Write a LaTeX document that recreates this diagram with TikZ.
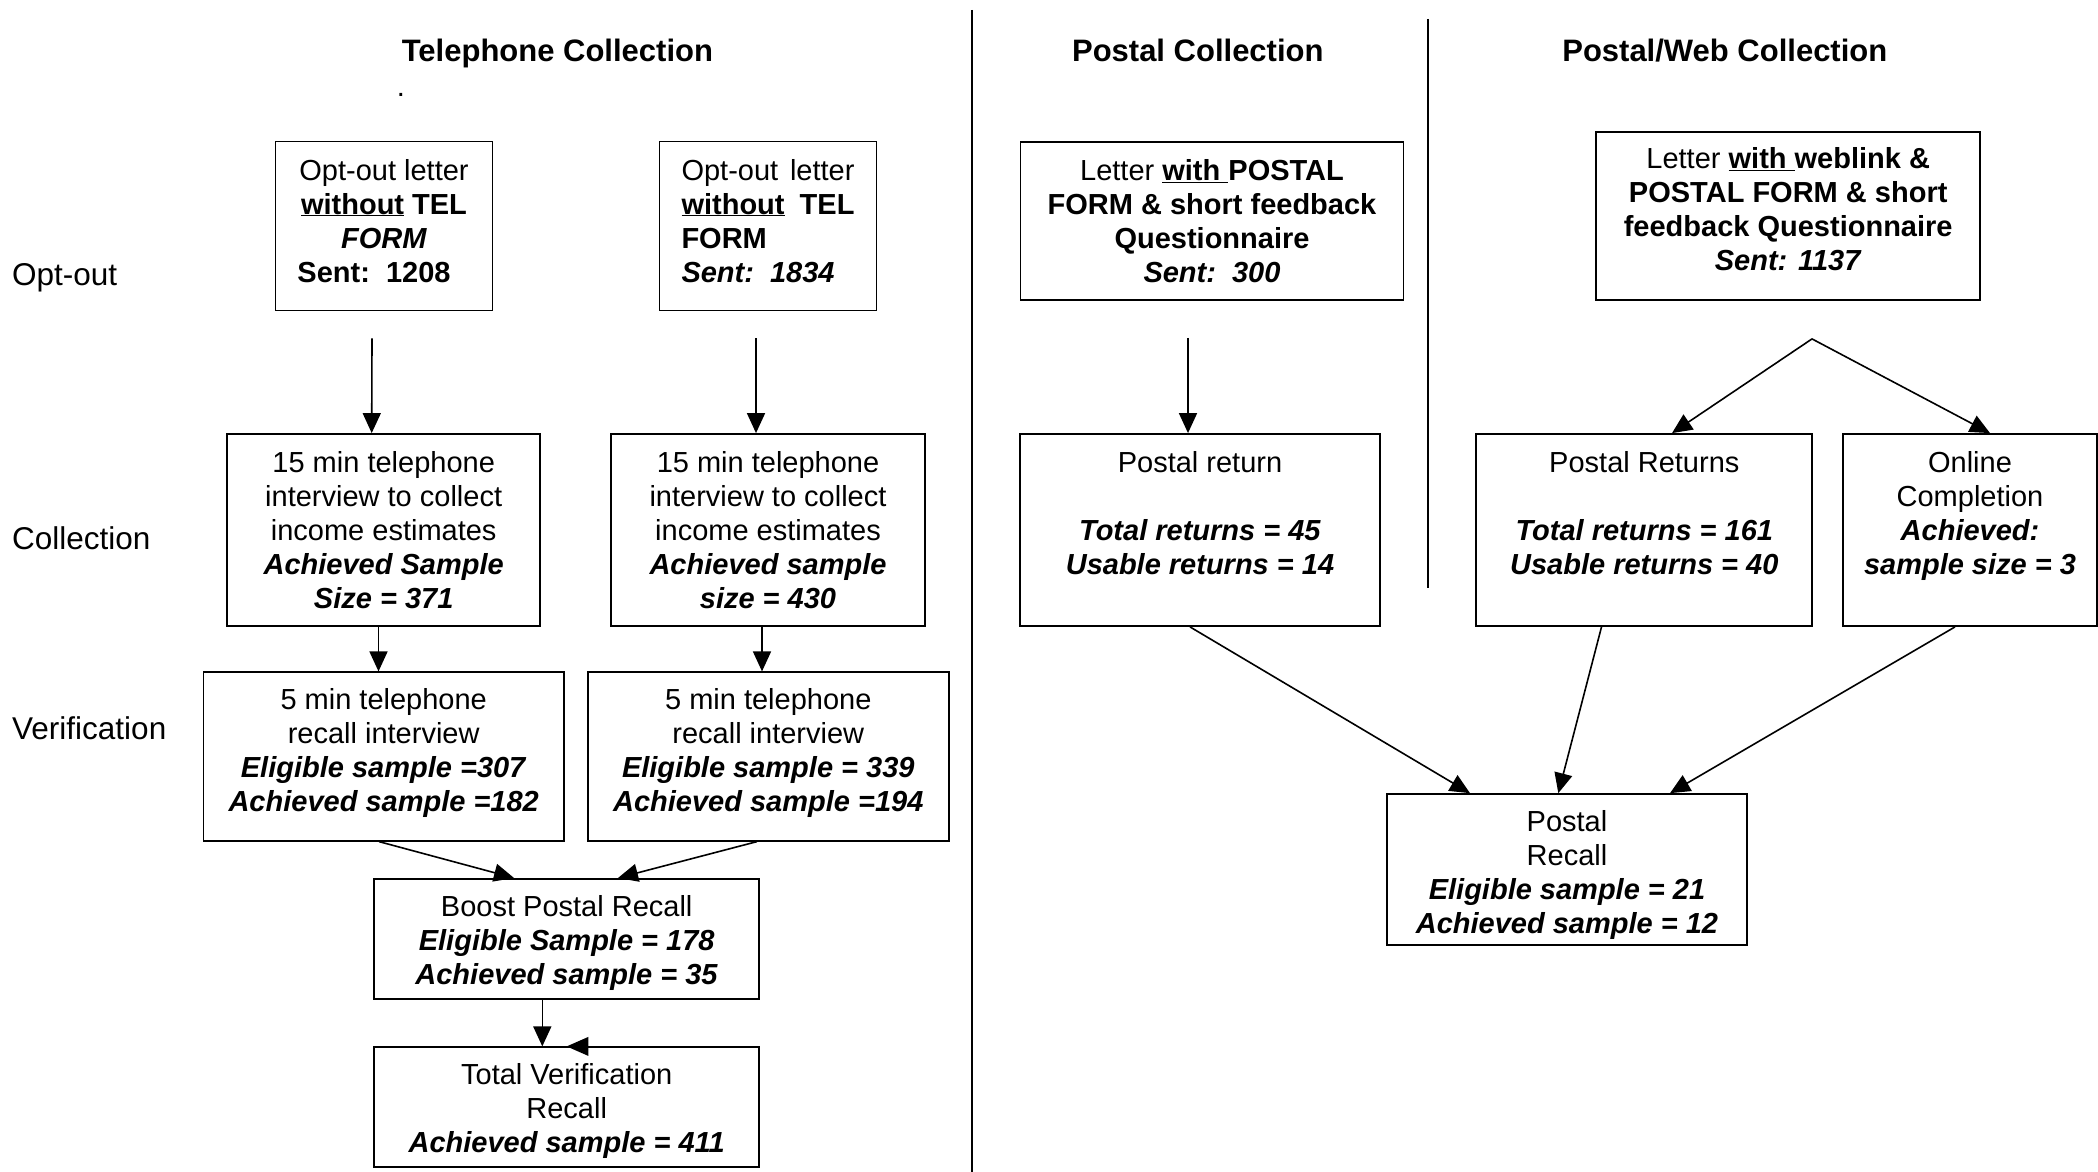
\documentclass[tikz,border=0pt]{standalone}
\usepackage{fontspec}
\setmainfont{Liberation Sans}
\usetikzlibrary{arrows.meta}
\newcommand{\bfit}[1]{\textbf{\textit{#1}}}
\newcommand{\tp}[1]{\rule{0pt}{#1pt}}
\newcommand{\bt}[1]{\rule[-#1pt]{0pt}{#1pt}}
\begin{document}
\begin{tikzpicture}[x=1pt,y=-1pt,
  box/.style={draw, line width=1.8pt, inner sep=0pt, align=center, font=\fontsize{29}{34}\selectfont},
  conn/.style={line width=1.6pt, -{Triangle[length=20pt,width=18pt]}},
  coltitle/.style={font=\fontsize{31}{36}\selectfont\bfseries, inner sep=0pt, anchor=base},
  rowlabel/.style={font=\fontsize{31.5}{36}\selectfont, anchor=west, inner sep=0pt}]
\useasboundingbox (0,0) rectangle (2098,1172);
% titles
\node[coltitle] (tTel) at (557.4,61.5) {Telephone Collection};
\node[coltitle] (tPost) at (1197.8,61.5) {Postal Collection};
\node[coltitle] (tWeb) at (1724.8,61.5) {Postal/Web Collection};
\node[font=\fontsize{29}{34}\selectfont, anchor=base, inner sep=0pt] (dot) at (401,96) {.};
% row labels
\node[rowlabel] (lOpt) at (12,278) {Opt-out};
\node[rowlabel] (lCol) at (12,538) {Collection};
\node[rowlabel] (lVer) at (12,728) {Verification};
% separators
\draw[line width=2pt] (972,10) -- (972,1172);
\draw[line width=2pt] (1427.7,19) -- (1427.7,588);
% boxes
\node[box, minimum width=217pt, minimum height=169pt] (optA) at (384,226)
  {\tp{22}Opt-out letter\\ \textbf{\underline{without} TEL}\\ \bfit{FORM}\\ \textbf{Sent:\ \ 1208}\hspace*{20pt}\bt{12}};
\node[box, align=left, minimum width=217pt, minimum height=169pt] (optB) at (768,226)
  {\tp{22}\makebox[173pt][s]{Opt-out letter}\\ \makebox[173pt][s]{\textbf{\underline{without} TEL}}\\ \textbf{FORM}\\ \bfit{Sent:\ \ 1834}\bt{12}};
\node[box, minimum width=313pt, minimum height=192pt] (telA) at (383.7,530)
  {\tp{32.7}15 min telephone\\ interview to collect\\ income estimates\\ \bfit{Achieved Sample}\\ \bfit{Size = 371}\bt{12}};
\node[box, minimum width=313.5pt, minimum height=192pt] (telB) at (768,530)
  {\tp{32.7}15 min telephone\\ interview to collect\\ income estimates\\ \bfit{Achieved sample}\\ \bfit{size = 430}\bt{12}};
\node[box, minimum width=360.6pt, minimum height=168.4pt] (verA) at (383.7,756.5)
  {\tp{22.3}5 min telephone\\ recall interview\\ \bfit{Eligible sample =307}\\ \bfit{Achieved sample =182}\bt{15}};
\node[box, minimum width=360.7pt, minimum height=168.4pt] (verB) at (768.3,756.5)
  {\tp{22.3}5 min telephone\\ recall interview\\ \bfit{Eligible sample = 339}\\ \bfit{Achieved sample =194}\bt{15}};
\node[box, minimum width=384.7pt, minimum height=120.3pt] (boost) at (566.7,939)
  {\tp{31.7}Boost Postal Recall\\ \bfit{Eligible Sample = 178}\\ \bfit{Achieved sample = 35}\bt{8}};
\node[box, minimum width=384.7pt, minimum height=120pt] (total) at (566.7,1107.3)
  {\tp{31}Total Verification\\ Recall\\ \bfit{Achieved sample = 411}\bt{8}};
\node[box, minimum width=383pt, minimum height=158.3pt] (postL) at (1212,220.8)
  {\tp{32.7}Letter \textbf{\underline{with\ }POSTAL}\\ \textbf{FORM \& short feedback}\\ \textbf{Questionnaire}\\ \bfit{Sent:\ \ 300}\bt{12}};
\node[box, minimum width=384pt, minimum height=168.6pt] (webL) at (1788.2,216)
  {\tp{22.3}Letter \textbf{\underline{with\ }weblink \&}\\ \textbf{POSTAL FORM \& short}\\ \textbf{feedback Questionnaire}\\ \bfit{Sent: 1137}\bt{15}};
\node[box, minimum width=360.7pt, minimum height=192pt] (postR) at (1200,530)
  {\tp{33}Postal return\\ \mbox{}\\ \bfit{Total returns = 45}\\ \bfit{Usable returns = 14}\\ \bt{12}};
\node[box, minimum width=336pt, minimum height=192pt] (postRs) at (1644.3,530)
  {\tp{33}Postal Returns\\ \mbox{}\\ \bfit{Total returns = 161}\\ \bfit{Usable returns = 40}\\ \bt{12}};
\node[box, minimum width=253.4pt, minimum height=192pt] (online) at (1970,530)
  {\tp{33}Online\\ Completion\\ \bfit{Achieved:}\\ \bfit{sample size = 3}\\ \bt{12}};
\node[box, minimum width=360.6pt, minimum height=151.3pt] (precall) at (1567,869.7)
  {\tp{32.9}Postal\\ Recall\\ \bfit{Eligible sample = 21}\\ \bfit{Achieved sample = 12}\bt{8}};
% connectors
\draw[conn] ([xshift=-12pt,yshift=-27pt]optA.south) -- ([xshift=-12pt]telA.north);
\draw[conn] ([xshift=-12pt,yshift=-27pt]optB.south) -- ([xshift=-12pt]telB.north);
\draw[conn] ([xshift=-5.2pt]telA.south) -- ([xshift=-5.2pt]verA.north);
\draw[conn] ([xshift=-6pt]telB.south) -- ([xshift=-6.3pt]verB.north);
\draw[conn] ([xshift=-4.7pt]verA.south) -- ([xshift=-52.7pt]boost.north);
\draw[conn] ([xshift=-11.3pt]verB.south) -- ([xshift=51.3pt]boost.north);
\draw[conn] ([xshift=-24.4pt]boost.south) -- ([xshift=-24.4pt]total.north);
\fill (total.north) -- ++(21.6,-9.5) -- ++(0,19) -- cycle;
\draw[conn] ([xshift=-24pt,yshift=-37pt]postL.south) -- ([xshift=-12pt]postR.north);
\coordinate (split) at ([xshift=23.8pt,yshift=-37.7pt]webL.south);
\draw[conn] (split) -- ([xshift=27.7pt]postRs.north);
\draw[conn] (split) -- ([xshift=20pt]online.north);
\draw[conn] ([xshift=-10pt]postR.south) -- ([xshift=-97pt]precall.north);
\draw[conn] ([xshift=-42.8pt]postRs.south) -- ([xshift=-8.7pt]precall.north);
\draw[conn] ([xshift=-15pt]online.south) -- ([xshift=103pt]precall.north);
\end{tikzpicture}
\end{document}
